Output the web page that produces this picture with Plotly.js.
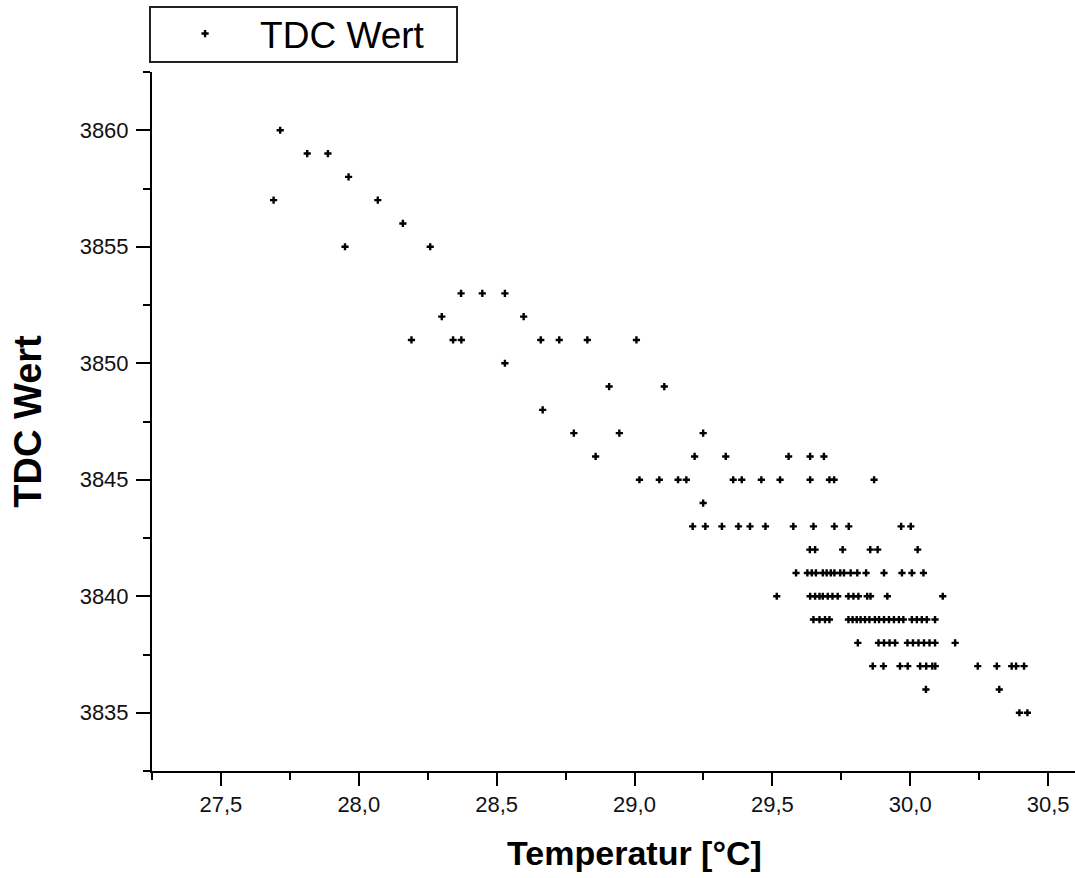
<!DOCTYPE html>
<html>
<head>
<meta charset="utf-8">
<script src="https://cdn.plot.ly/plotly-3.0.1.min.js"></script>
<style>
html, body { margin: 0; padding: 0; overflow: hidden; background: #fff; }
#chart { width: 1120px; height: 878px; }
</style>
</head>
<body>
<div id="chart"></div>
<script>
// Temperatur [°C] values (x) and TDC values (y)
const temperatur = [
  27.715,
  27.813, 27.888,
  27.963,
  27.691, 28.069,
  28.160,
  27.950, 28.259,
  28.371, 28.448, 28.530,
  28.301, 28.598,
  28.191, 28.342, 28.372, 28.660, 28.727, 28.829, 29.007,
  28.530,
  28.908, 29.108,
  28.667,
  28.780, 28.945, 29.249,
  28.859, 29.218, 29.331, 29.559, 29.637, 29.687,
  29.018, 29.090, 29.158, 29.188, 29.358, 29.389, 29.460, 29.528, 29.637, 29.707, 29.724, 29.869,
  29.249,
  29.211, 29.257, 29.317, 29.377, 29.419, 29.475, 29.576, 29.649, 29.725, 29.777, 29.967, 30.002,
  29.636, 29.655, 29.755, 29.855, 29.882, 30.027,
  29.586, 29.627, 29.643, 29.658, 29.683, 29.697, 29.712, 29.725, 29.746, 29.760, 29.784, 29.808, 29.840, 29.905, 29.970, 30.006, 30.048,
  29.516, 29.637, 29.655, 29.671, 29.683, 29.701, 29.718, 29.737, 29.776, 29.794, 29.812, 29.844, 29.856, 29.917, 30.118,
  29.649, 29.671, 29.691, 29.707, 29.776, 29.791, 29.806, 29.820, 29.836, 29.852, 29.872, 29.887, 29.905, 29.923, 29.941, 29.959, 29.975, 30.006, 30.024, 30.042, 30.060, 30.090,
  29.810, 29.885, 29.905, 29.925, 29.945, 29.990, 30.010, 30.030, 30.050, 30.070, 30.090, 30.163,
  29.864, 29.903, 29.963, 29.991, 30.036, 30.058, 30.080, 30.091, 30.245, 30.314, 30.368, 30.384, 30.413,
  30.057, 30.323,
  30.396, 30.425
];
const tdcWert = [
  3860,
  3859, 3859,
  3858,
  3857, 3857,
  3856,
  3855, 3855,
  3853, 3853, 3853,
  3852, 3852,
  3851, 3851, 3851, 3851, 3851, 3851, 3851,
  3850,
  3849, 3849,
  3848,
  3847, 3847, 3847,
  3846, 3846, 3846, 3846, 3846, 3846,
  3845, 3845, 3845, 3845, 3845, 3845, 3845, 3845, 3845, 3845, 3845, 3845,
  3844,
  3843, 3843, 3843, 3843, 3843, 3843, 3843, 3843, 3843, 3843, 3843, 3843,
  3842, 3842, 3842, 3842, 3842, 3842,
  3841, 3841, 3841, 3841, 3841, 3841, 3841, 3841, 3841, 3841, 3841, 3841, 3841, 3841, 3841, 3841, 3841,
  3840, 3840, 3840, 3840, 3840, 3840, 3840, 3840, 3840, 3840, 3840, 3840, 3840, 3840, 3840,
  3839, 3839, 3839, 3839, 3839, 3839, 3839, 3839, 3839, 3839, 3839, 3839, 3839, 3839, 3839, 3839, 3839, 3839, 3839, 3839, 3839, 3839,
  3838, 3838, 3838, 3838, 3838, 3838, 3838, 3838, 3838, 3838, 3838, 3838,
  3837, 3837, 3837, 3837, 3837, 3837, 3837, 3837, 3837, 3837, 3837, 3837, 3837,
  3836, 3836,
  3835, 3835
];
const seriesName = 'TDC Wert';
const xTitle = 'Temperatur [°C]';
const yTitle = 'TDC Wert';

const FONT = 'Liberation Sans, Arial, sans-serif';

const trace = {
  type: 'scatter',
  mode: 'markers',
  name: seriesName,
  x: temperatur,
  y: tdcWert,
  marker: { symbol: 'cross', size: 6, color: '#000', line: { width: 0 } },
  showlegend: true
};

const layout = {
  width: 1120,
  height: 878,
  margin: { l: 152, r: 3, t: 72, b: 107 },
  paper_bgcolor: '#fff',
  plot_bgcolor: '#fff',
  separators: ',.',
  font: { family: FONT, color: '#000' },
  showlegend: true,
  legend: {
    x: -0.002, y: 1.0987, xanchor: 'left', yanchor: 'top',
    borderwidth: 0,
    bgcolor: 'rgba(0,0,0,0)',
    itemwidth: 100,
    font: { family: FONT, size: 37, color: '#000' }
  },
  shapes: [{
    type: 'rect', xref: 'paper', yref: 'paper',
    x0: -0.00207, x1: 0.31606, y0: 1.01431, y1: 1.09299,
    line: { color: '#222', width: 2 },
    fillcolor: 'rgba(0,0,0,0)',
    layer: 'below'
  }],
  xaxis: {
    range: [27.25, 30.75],
    dtick: 0.5, tick0: 27.5,
    tickformat: '.1f',
    ticks: 'outside', ticklen: 13, tickwidth: 2, tickcolor: '#000',
    minor: { dtick: 0.25, tick0: 27.25, ticks: 'outside', ticklen: 7, tickwidth: 2, tickcolor: '#000', showgrid: false },
    showline: true, linewidth: 2, linecolor: '#000',
    showgrid: false, zeroline: false,
    tickfont: { family: FONT, size: 22, color: '#111' },
    title: { text: xTitle, font: { family: FONT, size: 34, color: '#000', weight: 'bold' }, standoff: 25 },
    automargin: false
  },
  yaxis: {
    range: [3832.5, 3862.5],
    dtick: 5, tick0: 3835,
    ticks: 'outside', ticklen: 14, tickwidth: 2, tickcolor: '#000',
    minor: { dtick: 2.5, tick0: 3832.5, ticks: 'outside', ticklen: 7, tickwidth: 2, tickcolor: '#000', showgrid: false },
    showline: true, linewidth: 2, linecolor: '#000',
    showgrid: false, zeroline: false,
    ticklabelstandoff: 3,
    tickfont: { family: FONT, size: 22, color: '#111' },
    title: { text: yTitle, font: { family: FONT, size: 38, color: '#000', weight: 'bold' }, standoff: 26 },
    automargin: false
  }
};

Plotly.newPlot('chart', [trace], layout, { staticPlot: true, displayModeBar: false });
</script>
</body>
</html>
